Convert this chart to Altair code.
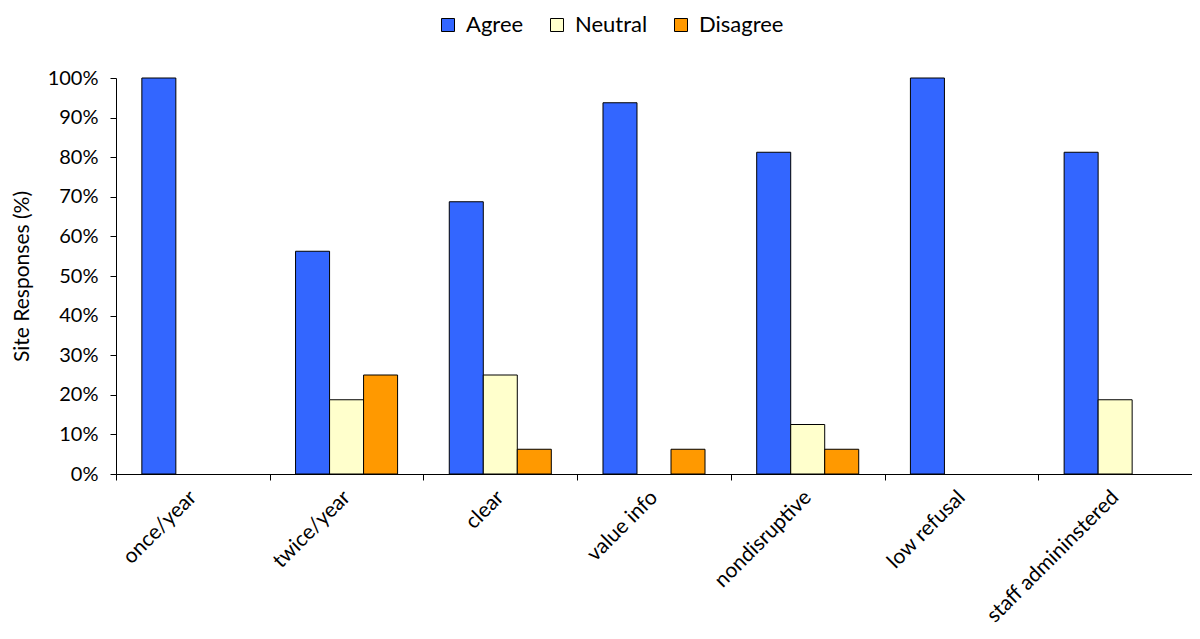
import altair as alt
import pandas as pd

categories = ["once/year", "twice/year", "clear", "value info", "nondisruptive", "low refusal", "staff admininstered"]
agree = [100, 56.25, 68.75, 93.75, 81.25, 100, 81.25]
neutral = [0, 18.75, 25, 0, 12.5, 0, 18.75]
disagree = [0, 25, 6.25, 6.25, 6.25, 0, 0]
responses = ["Agree", "Neutral", "Disagree"]
colors = ["#3366FF", "#FFFFCC", "#FF9900"]

rows = []
for i, c in enumerate(categories):
    for r, vals in zip(responses, [agree, neutral, disagree]):
        if vals[i] > 0:
            rows.append({"category": c, "response": r, "value": vals[i]})
df = pd.DataFrame(rows)

FONT = "Lato"

chart = alt.Chart(df).mark_bar(stroke="black", strokeWidth=1).encode(
    x=alt.X("category:N", sort=categories,
            scale=alt.Scale(paddingInner=0, paddingOuter=0),
            axis=alt.Axis(title=None, labelAngle=-45, labelAlign="right", labelBaseline="middle",
                          labelFontSize=21, labelFont=FONT, labelColor="black", labelPadding=14,
                          tickBand="extent", tickSize=6, tickColor="black", domainColor="black",
                          labelLimit=300)),
    xOffset=alt.XOffset("response:N", sort=responses,
                        scale=alt.Scale(domain=responses, paddingInner=0, paddingOuter=0.76)),
    y=alt.Y("value:Q", scale=alt.Scale(domain=[0, 100], nice=False),
            axis=alt.Axis(title="Site Responses (%)", values=list(range(0, 101, 10)),
                          labelExpr="datum.value + '%'", grid=False,
                          labelFontSize=20, labelFont=FONT, labelColor="black",
                          titleFontSize=21, titleFont=FONT, titleFontWeight="normal", titleColor="black",
                          titlePadding=15, tickSize=6, tickColor="black", domainColor="black", labelPadding=12)),
    color=alt.Color("response:N", sort=responses,
                    scale=alt.Scale(domain=responses, range=colors),
                    legend=alt.Legend(title=None, orient="none", direction="horizontal",
                                      legendX=321, legendY=-64, padding=0,
                                      symbolType="square", symbolSize=169,
                                      symbolStrokeColor="black", symbolStrokeWidth=1,
                                      labelFontSize=22, labelFont=FONT, labelColor="black",
                                      columnPadding=22, labelOffset=7)),
).properties(
    width=1076, height=396,
    autosize=alt.AutoSizeParams(type="none"),
    padding={"left": 108, "top": 70, "right": 0, "bottom": 157},
).configure_view(stroke=None)

chart.save("out.html", embed_options={"renderer": "svg", "actions": False})
